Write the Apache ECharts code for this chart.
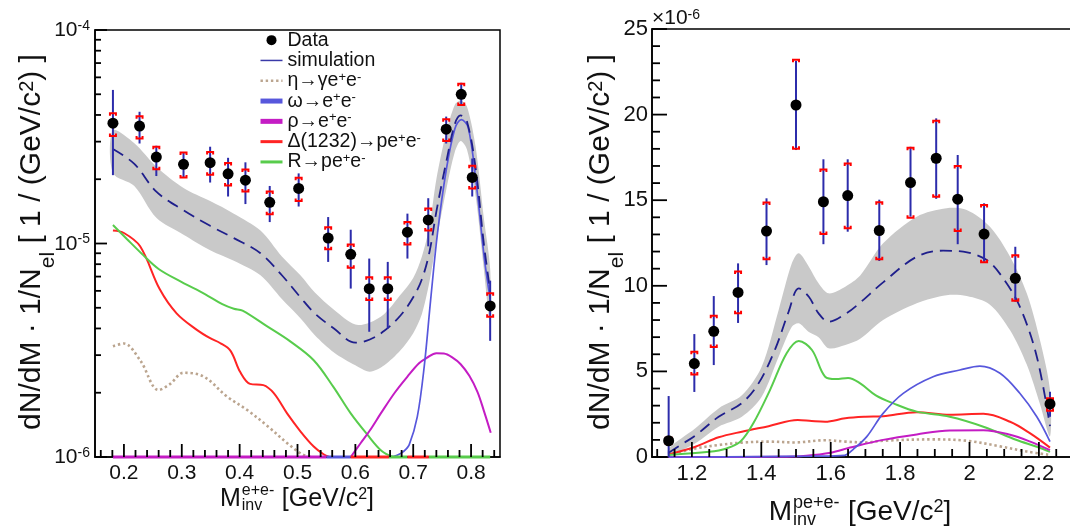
<!DOCTYPE html>
<html>
<head>
<meta charset="utf-8">
<script src="https://cdn.jsdelivr.net/npm/echarts@6/dist/echarts.min.js"></script>
<style>
  html, body { margin: 0; padding: 0; background: #fff; }
  #chart { width: 1070px; height: 532px; }
</style>
</head>
<body>
<div id="chart"></div>
<script>
// ---------- series names ----------
const N_DATA = 'Data';
const N_SIM = 'simulation';
const N_ETA = 'η→γe+e-';
const N_OMEGA = 'ω→e+e-';
const N_RHO = 'ρ→e+e-';
const N_DELTA = 'Δ(1232)→pe+e-';
const N_R = 'R→pe+e-';

// ---------- left panel: M(e+e-) in GeV/c^2, yield per GeV/c^2 (log scale) ----------
const leftX      = [0.181, 0.227, 0.256, 0.303, 0.349, 0.380, 0.410, 0.452, 0.502, 0.553, 0.592, 0.624, 0.656, 0.690, 0.726, 0.757, 0.783, 0.802, 0.833];
const leftY      = [3.66e-5, 3.55e-5, 2.54e-5, 2.35e-5, 2.39e-5, 2.12e-5, 1.98e-5, 1.56e-5, 1.81e-5, 1.06e-5, 8.9e-6, 6.14e-6, 6.14e-6, 1.13e-5, 1.29e-5, 3.43e-5, 5.0e-5, 2.04e-5, 5.1e-6];
const leftStatLo = [2.09e-5, 2.94e-5, 2.07e-5, 2.04e-5, 1.93e-5, 1.66e-5, 1.53e-5, 1.26e-5, 1.49e-5, 8.2e-6, 6.15e-6, 3.86e-6, 4.0e-6, 8.5e-6, 9.7e-6, 2.94e-5, 4.45e-5, 1.66e-5, 3.5e-6];
const leftStatHi = [5.24e-5, 4.14e-5, 2.87e-5, 2.67e-5, 2.84e-5, 2.52e-5, 2.4e-5, 1.86e-5, 2.13e-5, 1.33e-5, 1.16e-5, 8.5e-6, 8.2e-6, 1.38e-5, 1.63e-5, 3.93e-5, 5.66e-5, 2.5e-5, 6.7e-6];
const leftSysLo  = [3.19e-5, 3.1e-5, 2.23e-5, 2.04e-5, 2.1e-5, 1.87e-5, 1.75e-5, 1.37e-5, 1.58e-5, 9.4e-6, 7.7e-6, 5.43e-6, 5.43e-6, 9.9e-6, 1.15e-5, 3.02e-5, 4.45e-5, 1.81e-5, 4.54e-6];
const leftSysHi  = [4.07e-5, 3.95e-5, 2.84e-5, 2.67e-5, 2.68e-5, 2.38e-5, 2.22e-5, 1.75e-5, 2.03e-5, 1.19e-5, 9.9e-6, 6.95e-6, 6.95e-6, 1.26e-5, 1.46e-5, 3.82e-5, 5.6e-5, 2.31e-5, 5.85e-6];

const leftSim = [[0.181, 2.77e-5], [0.218, 2.36e-5], [0.256, 1.75e-5], [0.303, 1.43e-5], [0.349, 1.21e-5], [0.390, 1.06e-5], [0.436, 9.0e-6], [0.473, 7.1e-6], [0.505, 5.6e-6], [0.530, 4.7e-6], [0.563, 4.0e-6], [0.600, 3.43e-6], [0.625, 3.55e-6], [0.650, 3.9e-6], [0.678, 4.6e-6], [0.700, 5.6e-6], [0.715, 6.8e-6], [0.728, 9.1e-6], [0.740, 1.41e-5], [0.757, 2.4e-5], [0.772, 3.63e-5], [0.782, 3.98e-5], [0.793, 3.72e-5], [0.808, 2.24e-5], [0.822, 1.0e-5], [0.833, 6.0e-6]];
// [mass, lower edge, upper edge] of the simulation uncertainty band
const leftBand = [[0.181, 2.14e-5, 3.39e-5], [0.218, 1.86e-5, 2.95e-5], [0.256, 1.32e-5, 2.29e-5], [0.303, 1.10e-5, 1.82e-5], [0.349, 9.3e-6, 1.58e-5], [0.390, 8.3e-6, 1.38e-5], [0.436, 7.1e-6, 1.15e-5], [0.473, 5.5e-6, 8.7e-6], [0.505, 4.47e-6, 7.1e-6], [0.530, 3.72e-6, 5.9e-6], [0.563, 3.09e-6, 4.9e-6], [0.600, 2.69e-6, 4.17e-6], [0.625, 2.51e-6, 4.27e-6], [0.650, 2.69e-6, 4.68e-6], [0.678, 3.16e-6, 5.75e-6], [0.700, 3.8e-6, 6.9e-6], [0.715, 4.68e-6, 8.7e-6], [0.728, 6.6e-6, 1.2e-5], [0.740, 1.02e-5, 2.0e-5], [0.757, 1.78e-5, 3.31e-5], [0.772, 2.69e-5, 4.47e-5], [0.782, 3.02e-5, 4.68e-5], [0.793, 2.75e-5, 4.37e-5], [0.808, 1.66e-5, 2.82e-5], [0.822, 7.6e-6, 1.32e-5], [0.833, 4.17e-6, 7.6e-6]];
const leftEta = [[0.181, 3.3e-6], [0.200, 3.4e-6], [0.228, 2.84e-6], [0.260, 2.06e-6], [0.280, 2.2e-6], [0.303, 2.48e-6], [0.338, 2.38e-6], [0.378, 1.92e-6], [0.413, 1.66e-6], [0.449, 1.39e-6], [0.484, 1.15e-6], [0.508, 1.03e-6], [0.525, 1.0e-6]];
const leftOmega = [[0.660, 1.0e-6], [0.672, 1.02e-6], [0.683, 1.06e-6], [0.693, 1.14e-6], [0.707, 1.54e-6], [0.719, 2.65e-6], [0.730, 5.4e-6], [0.742, 1.12e-5], [0.757, 2.2e-5], [0.772, 3.45e-5], [0.783, 3.8e-5], [0.795, 3.5e-5], [0.809, 1.9e-5], [0.823, 8.5e-6], [0.833, 5.5e-6]];
const leftRho = [[0.592, 1.0e-6], [0.609, 1.16e-6], [0.625, 1.33e-6], [0.644, 1.6e-6], [0.668, 2.0e-6], [0.690, 2.38e-6], [0.710, 2.75e-6], [0.724, 2.92e-6], [0.740, 3.06e-6], [0.753, 3.05e-6], [0.768, 2.92e-6], [0.782, 2.72e-6], [0.797, 2.4e-6], [0.811, 2.02e-6], [0.822, 1.65e-6], [0.834, 1.3e-6]];
const leftDelta = [[0.181, 1.15e-5], [0.200, 1.12e-5], [0.228, 9.7e-6], [0.262, 6.1e-6], [0.291, 4.71e-6], [0.326, 3.94e-6], [0.349, 3.6e-6], [0.366, 3.42e-6], [0.384, 3.15e-6], [0.401, 2.5e-6], [0.418, 2.2e-6], [0.441, 2.17e-6], [0.459, 1.99e-6], [0.482, 1.6e-6], [0.505, 1.32e-6], [0.528, 1.12e-6], [0.545, 1.03e-6], [0.555, 1.0e-6]];
const leftR = [[0.181, 1.22e-5], [0.205, 1.05e-5], [0.230, 9.0e-6], [0.260, 7.6e-6], [0.300, 6.6e-6], [0.340, 5.8e-6], [0.370, 5.2e-6], [0.390, 4.95e-6], [0.405, 4.85e-6], [0.447, 4.1e-6], [0.488, 3.47e-6], [0.528, 2.84e-6], [0.562, 2.13e-6], [0.592, 1.6e-6], [0.620, 1.28e-6], [0.645, 1.07e-6], [0.665, 1.0e-6]];
// mass ranges where a component sits at the bottom of the log axis: [component, from, to]
const leftFloorRuns = [[N_RHO, 0.181, 0.55], [N_OMEGA, 0.55, 0.592], [N_DELTA, 0.592, 0.658], [N_R, 0.658, 0.69], [N_DELTA, 0.69, 0.727], [N_R, 0.727, 0.833]];

// ---------- right panel: M(p e+e-) in GeV/c^2, yield in units of 1e-6 ----------
const rightX      = [1.133, 1.207, 1.263, 1.333, 1.415, 1.500, 1.579, 1.649, 1.740, 1.830, 1.904, 1.966, 2.042, 2.132, 2.232];
const rightY      = [0.95, 5.46, 7.34, 9.61, 13.2, 20.56, 14.91, 15.27, 13.23, 16.03, 17.45, 15.06, 13.02, 10.44, 3.1];
const rightStatLo = [0, 3.8, 5.37, 7.83, 11.21, 17.93, 12.43, 13.16, 11.45, 14.04, 15.08, 12.43, 11.4, 9.07, 2.35];
const rightStatHi = [3.56, 7.18, 9.4, 11.31, 15.11, 23.13, 17.39, 17.39, 15.03, 18.12, 19.78, 17.64, 14.82, 12.28, 3.81];
const rightSysLo  = [0.78, 4.82, 6.42, 8.39, 11.55, 18.0, 13.03, 13.36, 11.55, 13.98, 15.2, 13.2, 11.37, 9.12, 2.7];
const rightSysHi  = [1.12, 6.15, 8.25, 10.83, 14.86, 23.2, 16.8, 17.15, 14.88, 18.07, 19.64, 17.0, 14.72, 11.78, 3.43];

const rightSim = [[1.133, 0.25], [1.175, 0.8], [1.210, 1.25], [1.277, 2.35], [1.344, 3.15], [1.392, 4.3], [1.440, 6.3], [1.479, 8.5], [1.508, 9.85], [1.537, 9.36], [1.565, 8.39], [1.594, 7.9], [1.642, 8.35], [1.681, 8.95], [1.751, 10.2], [1.848, 11.7], [1.924, 12.05], [1.982, 11.99], [2.050, 11.5], [2.097, 10.44], [2.145, 8.78], [2.194, 5.86], [2.232, 1.8]];
const rightBand = [[1.133, 0.1, 0.5], [1.210, 0.8, 1.68], [1.277, 1.77, 2.84], [1.344, 2.35, 3.6], [1.401, 3.52, 5.27], [1.450, 5.86, 8.59], [1.488, 7.61, 11.31], [1.508, 7.81, 11.9], [1.537, 7.3, 11.12], [1.565, 7.0, 10.15], [1.594, 6.35, 9.56], [1.642, 6.54, 9.95], [1.685, 6.9, 10.6], [1.751, 8.0, 12.48], [1.848, 8.98, 14.04], [1.934, 9.45, 14.53], [1.992, 9.4, 14.43], [2.059, 8.9, 13.45], [2.117, 7.4, 11.7], [2.165, 5.4, 9.56], [2.203, 3.1, 6.83], [2.232, 1.2, 3.9]];
const rightEta = [[1.133, 0.15], [1.210, 0.5], [1.277, 0.7], [1.344, 0.84], [1.421, 0.9], [1.497, 0.85], [1.584, 0.98], [1.642, 0.9], [1.700, 0.85], [1.751, 0.95], [1.895, 1.03], [1.992, 0.95], [2.088, 0.62], [2.165, 0.32], [2.232, 0.12]];
const rightOmega = [[1.133, 0], [1.400, 0.02], [1.550, 0.05], [1.640, 0.1], [1.665, 0.45], [1.704, 1.19], [1.751, 2.55], [1.809, 3.72], [1.895, 4.69], [1.972, 5.08], [2.030, 5.31], [2.088, 4.89], [2.145, 3.72], [2.194, 2.35], [2.232, 0.9]];
const rightRho = [[1.133, 0], [1.450, 0.02], [1.530, 0.08], [1.600, 0.25], [1.656, 0.55], [1.751, 1.0], [1.848, 1.32], [1.943, 1.55], [2.040, 1.56], [2.117, 1.3], [2.175, 0.9], [2.232, 0.4]];
const rightDelta = [[1.133, 0.15], [1.210, 0.6], [1.277, 1.15], [1.344, 1.48], [1.421, 1.8], [1.505, 2.16], [1.545, 2.1], [1.584, 2.06], [1.642, 2.26], [1.700, 2.35], [1.751, 2.38], [1.848, 2.62], [1.943, 2.47], [2.040, 2.52], [2.117, 2.06], [2.175, 1.38], [2.232, 0.55]];
const rightR = [[1.133, 0.12], [1.250, 0.3], [1.300, 0.5], [1.340, 0.9], [1.377, 1.97], [1.425, 3.91], [1.473, 6.06], [1.508, 6.78], [1.546, 6.25], [1.584, 4.69], [1.615, 4.55], [1.650, 4.62], [1.685, 4.3], [1.730, 3.6], [1.781, 3.13], [1.848, 2.65], [1.943, 2.35], [2.040, 1.77], [2.136, 0.99], [2.194, 0.6], [2.232, 0.3]];

// ---------- axis ranges and tick positions ----------
const LEFT_X_RANGE = [0.15, 0.85];
const LEFT_Y_RANGE = [1e-6, 1e-4];
const LEFT_X_MAJOR = [0.2, 0.3, 0.4, 0.5, 0.6, 0.7, 0.8];
const LEFT_X_MINOR = [];
for (let i = 8; i <= 42; i++) if (i % 5 !== 0) LEFT_X_MINOR.push(i / 50);
const LEFT_Y_MAJOR = [1e-6, 1e-5, 1e-4];
const LEFT_Y_EXPONENTS = [-6, -5, -4];
const LEFT_Y_MINOR = [];
for (const d of [1e-6, 1e-5]) for (let k = 2; k <= 9; k++) LEFT_Y_MINOR.push(k * d);

const RIGHT_X_RANGE = [1.085, 2.3];
const RIGHT_Y_RANGE = [0, 25];
const RIGHT_X_MAJOR = [1.2, 1.4, 1.6, 1.8, 2.0, 2.2];
const RIGHT_X_MINOR = [];
for (let i = 22; i <= 46; i++) if (i % 4 !== 0) RIGHT_X_MINOR.push(i / 20);
const RIGHT_Y_MAJOR = [0, 5, 10, 15, 20, 25];
const RIGHT_Y_MINOR = [];
for (let i = 1; i < 25; i++) if (i % 5 !== 0) RIGHT_Y_MINOR.push(i);

// ---------- styles ----------
const FONT = '"Liberation Sans", Arial, Helvetica, sans-serif';
const INK = '#111';
const C = {
  band: '#c9c9c9',
  [N_SIM]: '#1f1f8c',
  [N_ETA]: '#bba58f',
  [N_OMEGA]: '#5757dc',
  [N_RHO]: '#c41cc4',
  [N_DELTA]: '#ff2424',
  [N_R]: '#58cc4c',
  stat: '#2c2cab',
  sys: '#ff0000',
  tick: '#000'
};
const TICK_W = 1.8;

const LEFT_GRID = { left: 95, top: 30, width: 405, height: 427 };
const RIGHT_GRID = { left: 652, top: 29, width: 421.6, height: 428 };

const LEFT_TICKS = {
  xEdge: LEFT_X_RANGE[0], yEdge: LEFT_Y_RANGE[0],
  xMajor: LEFT_X_MAJOR, xMinor: LEFT_X_MINOR, yMajor: LEFT_Y_MAJOR, yMinor: LEFT_Y_MINOR,
  xMajorLen: 13, xMinorLen: 7, yMajorLen: 12, yMinorLen: 6
};
const RIGHT_TICKS = {
  xEdge: RIGHT_X_RANGE[0], yEdge: RIGHT_Y_RANGE[0],
  xMajor: RIGHT_X_MAJOR, xMinor: RIGHT_X_MINOR, yMajor: RIGHT_Y_MAJOR, yMinor: RIGHT_Y_MINOR,
  xMajorLen: 15, xMinorLen: 8, yMajorLen: 15, yMinorLen: 8
};

// ---------- renderers ----------
function bandRenderer(band) {
  return function (params, api) {
    const upper = band.map(r => api.coord([r[0], r[2]]));
    const lower = band.slice().reverse().map(r => api.coord([r[0], r[1]]));
    return {
      type: 'polygon',
      silent: true,
      shape: { points: upper.concat(lower), smooth: 0.3 },
      style: { fill: C.band }
    };
  };
}

function errorBarRenderer(params, api) {
  const x = api.value(0);
  const sLo = api.coord([x, api.value(2)]);
  const sHi = api.coord([x, api.value(3)]);
  const yLo = api.coord([x, api.value(4)]);
  const yHi = api.coord([x, api.value(5)]);
  const w = 3, h = 2.5;
  return {
    type: 'group',
    children: [
      { type: 'line', shape: { x1: sLo[0], y1: sLo[1], x2: sHi[0], y2: sHi[1] }, style: { stroke: C.stat, lineWidth: 2 } },
      { type: 'polyline', shape: { points: [[yHi[0] - w, yHi[1] + h], [yHi[0] - w, yHi[1]], [yHi[0] + w, yHi[1]], [yHi[0] + w, yHi[1] + h]] }, style: { stroke: C.sys, lineWidth: 2, fill: null } },
      { type: 'polyline', shape: { points: [[yLo[0] - w, yLo[1] - h], [yLo[0] - w, yLo[1]], [yLo[0] + w, yLo[1]], [yLo[0] + w, yLo[1] - h]] }, style: { stroke: C.sys, lineWidth: 2, fill: null } }
    ]
  };
}

function floorRenderer(params, api) {
  const p0 = api.coord([api.value(0), api.value(2)]);
  const p1 = api.coord([api.value(1), api.value(2)]);
  const name = leftFloorRuns[params.dataIndex][0];
  return {
    type: 'line',
    shape: { x1: p0[0], y1: p0[1], x2: p1[0], y2: p1[1] },
    style: { stroke: C[name], lineWidth: 3 }
  };
}

// inward tick marks: x ticks rise from the bottom edge, y ticks point right from the left edge.
// toPixel maps a [x, y] data pair to canvas pixels.
function tickBars(t, toPixel) {
  const out = [];
  const bar = (x, y, w, h) => out.push({ x, y, width: w, height: h });
  t.xMajor.concat(t.xMinor).forEach((v, i) => {
    const len = i < t.xMajor.length ? t.xMajorLen : t.xMinorLen;
    const p = toPixel([v, t.yEdge]);
    bar(p[0] - TICK_W / 2, p[1] - len, TICK_W, len);
  });
  t.yMajor.concat(t.yMinor).forEach((v, i) => {
    const len = i < t.yMajor.length ? t.yMajorLen : t.yMinorLen;
    const p = toPixel([t.xEdge, v]);
    bar(p[0], p[1] - TICK_W / 2, len, TICK_W);
  });
  return out;
}

function zipRows(...cols) {
  return cols[0].map((_, i) => cols.map(c => c[i]));
}

// ---------- series ----------
function curve(name, data, xi, yi, extra) {
  return Object.assign({
    type: 'line', name, data, xAxisIndex: xi, yAxisIndex: yi,
    smooth: 0.35, symbol: 'none', z: 3, silent: true,
    lineStyle: { color: C[name], width: 2 },
    itemStyle: { color: C[name] }
  }, extra || {});
}

function panelSeries(p) {
  return [
    {
      type: 'custom', name: 'band', xAxisIndex: p.xi, yAxisIndex: p.yi, z: 1, silent: true,
      renderItem: bandRenderer(p.band),
      data: [[p.band[0][0], p.band[0][2]]]
    },
    curve(N_ETA, p.eta, p.xi, p.yi, { lineStyle: { color: C[N_ETA], width: 2.6, type: [2.4, 2.8] } }),
    curve(N_DELTA, p.delta, p.xi, p.yi),
    curve(N_R, p.r, p.xi, p.yi),
    curve(N_RHO, p.rho, p.xi, p.yi, p.zeroClip ? { clip: false } : {}),
    curve(N_OMEGA, p.omega, p.xi, p.yi, Object.assign({ lineStyle: { color: C[N_OMEGA], width: 1.7 } }, p.zeroClip ? { clip: false } : {})),
    curve(N_SIM, p.sim, p.xi, p.yi, { z: 4, lineStyle: { color: C[N_SIM], width: 1.8, type: [12, 7] } }),
    {
      type: 'custom', name: 'errors', xAxisIndex: p.xi, yAxisIndex: p.yi, z: 5, silent: true,
      renderItem: errorBarRenderer,
      encode: { x: 0, y: 1 },
      data: zipRows(p.x, p.y, p.statLo, p.statHi, p.sysLo, p.sysHi)
    },
    {
      type: 'scatter', name: N_DATA, xAxisIndex: p.xi, yAxisIndex: p.yi, z: 6, silent: true,
      symbol: 'circle', symbolSize: 11,
      itemStyle: { color: '#000', opacity: 1 },
      data: zipRows(p.x, p.y)
    }
  ];
}

const series = [].concat(
  panelSeries({
    xi: 0, yi: 0, band: leftBand, sim: leftSim, eta: leftEta, omega: leftOmega, rho: leftRho,
    delta: leftDelta, r: leftR, x: leftX, y: leftY, statLo: leftStatLo, statHi: leftStatHi,
    sysLo: leftSysLo, sysHi: leftSysHi, zeroClip: false
  }),
  [{
    type: 'custom', name: 'floor', xAxisIndex: 0, yAxisIndex: 0, z: 4, silent: true,
    renderItem: floorRenderer,
    encode: { x: [0, 1], y: 2 },
    data: leftFloorRuns.map(r => [r[1], r[2], LEFT_Y_RANGE[0]])
  }],
  panelSeries({
    xi: 1, yi: 2, band: rightBand, sim: rightSim, eta: rightEta, omega: rightOmega, rho: rightRho,
    delta: rightDelta, r: rightR, x: rightX, y: rightY, statLo: rightStatLo, statHi: rightStatHi,
    sysLo: rightSysLo, sysHi: rightSysHi, zeroClip: true
  })
);

// ---------- axes ----------
const AXIS_LINE = { show: true, onZero: false, lineStyle: { color: '#000', width: 1.6 } };
const NO_SPLIT = { show: false };
const NO_TICK = { show: false };
const fmtX = v => (Math.abs(v - Math.round(v)) < 1e-9 ? String(Math.round(v)) : v.toFixed(1));

const xAxis = [
  {
    type: 'value', gridIndex: 0, min: LEFT_X_RANGE[0], max: LEFT_X_RANGE[1], position: 'bottom',
    splitLine: NO_SPLIT, axisLine: AXIS_LINE, axisTick: NO_TICK,
    axisLabel: { customValues: LEFT_X_MAJOR, formatter: fmtX, fontSize: 21, margin: 6, color: INK, fontFamily: FONT }
  },
  {
    type: 'value', gridIndex: 1, min: RIGHT_X_RANGE[0], max: RIGHT_X_RANGE[1], position: 'bottom',
    splitLine: NO_SPLIT, axisLine: AXIS_LINE, axisTick: NO_TICK,
    axisLabel: { customValues: RIGHT_X_MAJOR, formatter: fmtX, fontSize: 22, margin: 6, color: INK, fontFamily: FONT }
  }
];

const yAxis = [
  // data axis of the left panel (log10)
  { type: 'log', logBase: 10, gridIndex: 0, min: LEFT_Y_RANGE[0], max: LEFT_Y_RANGE[1], show: false, position: 'left' },
  // decade labels of the left panel, placed in log10 units
  {
    type: 'value', gridIndex: 0, min: LEFT_Y_EXPONENTS[0], max: LEFT_Y_EXPONENTS[LEFT_Y_EXPONENTS.length - 1], position: 'left',
    splitLine: NO_SPLIT, axisLine: AXIS_LINE, axisTick: NO_TICK,
    axisLabel: {
      customValues: LEFT_Y_EXPONENTS,
      margin: 5,
      formatter: v => '{b|10}{s|' + v + '}',
      rich: {
        b: { fontSize: 21, lineHeight: 22, verticalAlign: 'bottom', color: INK, fontFamily: FONT },
        s: { fontSize: 14, lineHeight: 8, verticalAlign: 'top', color: INK, fontFamily: FONT }
      }
    }
  },
  {
    type: 'value', gridIndex: 1, min: RIGHT_Y_RANGE[0], max: RIGHT_Y_RANGE[1], interval: 5, position: 'left',
    splitLine: NO_SPLIT, axisLine: AXIS_LINE, axisTick: NO_TICK,
    axisLabel: { fontSize: 22, margin: 4, color: INK, fontFamily: FONT },
    name: '{m|×10}{s|-6}',
    nameLocation: 'end',
    nameGap: 0,
    nameTextStyle: {
      align: 'left', verticalAlign: 'bottom',
      rich: {
        m: { fontSize: 21, lineHeight: 21, verticalAlign: 'bottom', color: INK, fontFamily: FONT },
        s: { fontSize: 14, lineHeight: 8, verticalAlign: 'top', color: INK, fontFamily: FONT }
      }
    }
  }
];

// ---------- legend ----------
const LEGEND_TEXT = {
  [N_DATA]: '{n|Data}',
  [N_SIM]: '{n|simulation}',
  [N_ETA]: '{n|η→γe}{s|+}{n|e}{s|-}',
  [N_OMEGA]: '{n|ω→e}{s|+}{n|e}{s|-}',
  [N_RHO]: '{n|ρ→e}{s|+}{n|e}{s|-}',
  [N_DELTA]: '{n|Δ(1232)→pe}{s|+}{n|e}{s|-}',
  [N_R]: '{n|R→pe}{s|+}{n|e}{s|-}'
};

const NO_MARK = { opacity: 0 };
const legend = {
  orient: 'vertical', left: 253, top: 25,
  itemWidth: 22, itemHeight: 10, itemGap: 0,
  selectedMode: false,
  formatter: name => LEGEND_TEXT[name],
  textStyle: {
    color: INK, fontFamily: FONT, fontSize: 19.5, lineHeight: 20.3,
    rich: {
      n: { fontSize: 19.5, lineHeight: 20.3, verticalAlign: 'bottom', color: INK, fontFamily: FONT },
      s: { fontSize: 13, lineHeight: 9, verticalAlign: 'top', color: INK, fontFamily: FONT }
    }
  },
  data: [
    { name: N_DATA, icon: 'circle', itemStyle: { color: '#000', opacity: 1 } },
    { name: N_SIM, itemStyle: NO_MARK, lineStyle: { width: 1.5, type: 'solid', color: '#3a3aa8' } },
    { name: N_ETA, itemStyle: NO_MARK, lineStyle: { width: 2.6 } },
    { name: N_OMEGA, itemStyle: NO_MARK, lineStyle: { width: 5 } },
    { name: N_RHO, itemStyle: NO_MARK, lineStyle: { width: 5 } },
    { name: N_DELTA, itemStyle: NO_MARK, lineStyle: { width: 3 } },
    { name: N_R, itemStyle: NO_MARK, lineStyle: { width: 3 } }
  ]
};

// ---------- axis titles ----------
const measureCtx = document.createElement('canvas').getContext('2d');
function textWidth(str, size) {
  measureCtx.font = size + 'px ' + FONT;
  return measureCtx.measureText(str).width;
}

// rotated title; "el" hangs below the baseline, "2" sits above it
function yTitle(cx, cy) {
  return {
    type: 'text', x: cx, y: cy, rotation: Math.PI / 2, silent: true,
    style: {
      text: '{m|dN/dM · 1/N}{b|el}{m| [ 1 / (GeV/c}{t|2}{m|) ]}',
      align: 'center', verticalAlign: 'middle',
      rich: {
        m: { fontSize: 30, lineHeight: 30, verticalAlign: 'top', fill: INK, fontFamily: FONT },
        b: { fontSize: 21, lineHeight: 42, verticalAlign: 'bottom', fill: INK, fontFamily: FONT },
        t: { fontSize: 20, lineHeight: 14, verticalAlign: 'top', fill: INK, fontFamily: FONT }
      }
    }
  };
}

function massTitle(cx, cy, upper, size, script) {
  const wM = textWidth('M', size);
  const wScript = Math.max(textWidth(upper, script), textWidth('inv', script));
  const wUnit = textWidth('[GeV/c]', size) + textWidth('2', script);
  const gap = size * 0.3;
  const x0 = cx - (wM + 1 + wScript + gap + wUnit) / 2;
  const base = { fill: INK, fontFamily: FONT, verticalAlign: 'middle', align: 'left' };
  return [
    { type: 'text', x: x0, y: cy, silent: true, style: Object.assign({ text: 'M', fontSize: size }, base) },
    { type: 'text', x: x0 + wM + 1, y: cy - size * 0.33, silent: true, style: Object.assign({ text: upper, fontSize: script }, base) },
    { type: 'text', x: x0 + wM + 1, y: cy + size * 0.27, silent: true, style: Object.assign({ text: 'inv', fontSize: script }, base) },
    {
      type: 'text', x: x0 + wM + 1 + wScript + gap, y: cy, silent: true,
      style: {
        text: '{n|[GeV/c}{s|2}{n|]}', align: 'left', verticalAlign: 'middle',
        rich: {
          n: { fontSize: size, lineHeight: size, verticalAlign: 'bottom', fill: INK, fontFamily: FONT },
          s: { fontSize: script, lineHeight: script * 0.6, verticalAlign: 'top', fill: INK, fontFamily: FONT }
        }
      }
    }
  ];
}

const graphic = [].concat(
  [yTitle(38, 242), yTitle(607, 242)],
  massTitle(297, 499, 'e+e-', 25, 16),
  massTitle(860, 512, 'pe+e-', 28, 18)
);

// ---------- chart ----------
const chart = echarts.init(document.getElementById('chart'), null, { renderer: 'canvas' });
chart.setOption({
  animation: false,
  backgroundColor: '#fff',
  textStyle: { fontFamily: FONT },
  grid: [
    Object.assign({ show: true, backgroundColor: 'transparent', borderColor: '#000', borderWidth: 1.5, containLabel: false, outerBoundsMode: 'none' }, LEFT_GRID),
    Object.assign({ show: true, backgroundColor: 'transparent', borderColor: '#000', borderWidth: 1.5, containLabel: false, outerBoundsMode: 'none' }, RIGHT_GRID)
  ],
  legend,
  xAxis,
  yAxis,
  series,
  graphic
});

// ---------- tick marks ----------
// each axis maps its values to pixels; the grid box and the axis range give the same mapping
// and are used if the axis lookup returns nothing
function axisToPixel(key, index, fallback) {
  return v => {
    let p = NaN;
    try { p = chart.convertToPixel({ [key]: index }, v); } catch (e) { p = NaN; }
    return typeof p === 'number' && isFinite(p) ? p : fallback(v);
  };
}
const lx = axisToPixel('xAxisIndex', 0, v => LEFT_GRID.left + (v - LEFT_X_RANGE[0]) / (LEFT_X_RANGE[1] - LEFT_X_RANGE[0]) * LEFT_GRID.width);
const ly = axisToPixel('yAxisIndex', 0, v => LEFT_GRID.top + LEFT_GRID.height * (Math.log10(LEFT_Y_RANGE[1]) - Math.log10(v)) / (Math.log10(LEFT_Y_RANGE[1]) - Math.log10(LEFT_Y_RANGE[0])));
const rx = axisToPixel('xAxisIndex', 1, v => RIGHT_GRID.left + (v - RIGHT_X_RANGE[0]) / (RIGHT_X_RANGE[1] - RIGHT_X_RANGE[0]) * RIGHT_GRID.width);
const ry = axisToPixel('yAxisIndex', 2, v => RIGHT_GRID.top + RIGHT_GRID.height * (RIGHT_Y_RANGE[1] - v) / (RIGHT_Y_RANGE[1] - RIGHT_Y_RANGE[0]));

const tickElements = tickBars(LEFT_TICKS, d => [lx(d[0]), ly(d[1])])
  .concat(tickBars(RIGHT_TICKS, d => [rx(d[0]), ry(d[1])]))
  .map(shape => ({ type: 'rect', z: 100, silent: true, shape, style: { fill: C.tick } }));
chart.setOption({ graphic: graphic.concat(tickElements) });
</script>
</body>
</html>
